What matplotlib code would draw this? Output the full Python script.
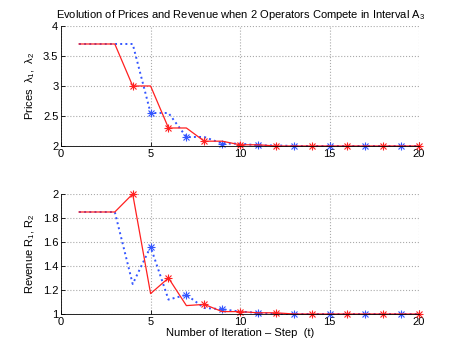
import matplotlib
matplotlib.use('Agg')
import matplotlib.pyplot as plt
import numpy as np

plt.rcParams['font.family'] = ['Liberation Sans', 'DejaVu Sans']
plt.rcParams['mathtext.fontset'] = 'custom'
plt.rcParams['mathtext.rm'] = 'Liberation Sans'
plt.rcParams['mathtext.it'] = 'Liberation Sans'

# iteration steps
t = np.arange(1, 21)

# prices of operator 1 and operator 2
price1 = [3.7, 3.7, 3.7, 3.0, 3.0, 2.3, 2.3, 2.08, 2.08, 2.02,
          2.02, 2.0, 2.0, 2.0, 2.0, 2.0, 2.0, 2.0, 2.0, 2.0]
price2 = [3.7, 3.7, 3.7, 3.7, 2.55, 2.55, 2.15, 2.15, 2.04, 2.04,
          2.01, 2.01, 2.0, 2.0, 2.0, 2.0, 2.0, 2.0, 2.0, 2.0]

# revenue of operator 1 and operator 2
rev1 = [1.85, 1.85, 1.85, 2.0, 1.17, 1.3, 1.07, 1.08, 1.02, 1.02,
        1.01, 1.01, 1.0, 1.0, 1.0, 1.0, 1.0, 1.0, 1.0, 1.0]
rev2 = [1.85, 1.85, 1.85, 1.25, 1.56, 1.12, 1.16, 1.05, 1.04, 1.02,
        1.01, 1.0, 1.0, 1.0, 1.0, 1.0, 1.0, 1.0, 1.0, 1.0]

# operator 1 updates at even steps, operator 2 at odd steps
mark1 = (t >= 4) & (t % 2 == 0)
mark2 = (t >= 5) & (t % 2 == 1)

red = '#ff2020'
blue = '#3355ff'

fig = plt.figure(figsize=(4.63, 3.54), dpi=100)
ax1 = fig.add_axes([0.132, 0.5876, 0.773, 0.339])
ax2 = fig.add_axes([0.132, 0.113, 0.773, 0.339])

def asterisk(ax, x, y, c):
    # matlab style '*' marker = plus + cross
    ax.plot(x, y, '+', color=c, ms=6, mew=0.8, ls='none', clip_on=False)
    ax.plot(x, y, 'x', color=c, ms=4.5, mew=0.8, ls='none', clip_on=False)

def draw(ax, y1, y2):
    y1 = np.array(y1)
    y2 = np.array(y2)
    ax.plot(t, y2, ':', color=blue, lw=1.4, clip_on=False)
    asterisk(ax, t[mark2], y2[mark2], blue)
    ax.plot(t, y1, '-', color=red, lw=0.9, clip_on=False)
    asterisk(ax, t[mark1], y1[mark1], red)
    ax.grid(True, linestyle=':', color='#aaaaaa', lw=0.8)
    ax.set_xlim(0, 20)
    ax.set_xticks([0, 5, 10, 15, 20])
    for s in ['top', 'right']:
        ax.spines[s].set_visible(False)
    ax.spines['left'].set_linewidth(0.6)
    ax.spines['bottom'].set_linewidth(0.6)
    ax.tick_params(direction='in', length=3, width=0.6, labelsize=8, pad=2)

draw(ax1, price1, price2)
ax1.set_ylim(2, 4)
ax1.set_yticks([2, 2.5, 3, 3.5, 4])
ax1.set_yticklabels(['2', '2.5', '3', '3.5', '4'])
ax1.set_ylabel(r'Prices  $\lambda_1$,  $\lambda_2$', fontsize=8)
ax1.set_title(r'Evolution of Prices and Revenue when 2 Operators Compete in Interval A$_3$',
              fontsize=8, pad=6)

draw(ax2, rev1, rev2)
ax2.set_ylim(1, 2)
ax2.set_yticks([1, 1.2, 1.4, 1.6, 1.8, 2])
ax2.set_yticklabels(['1', '1.2', '1.4', '1.6', '1.8', '2'])
ax2.set_ylabel(r'Revenue R$_1$, R$_2$', fontsize=8)
ax2.set_xlabel('Number of Iteration \u2013 Step  (t)', fontsize=8, labelpad=1)

fig.savefig('out.png', dpi=100)
